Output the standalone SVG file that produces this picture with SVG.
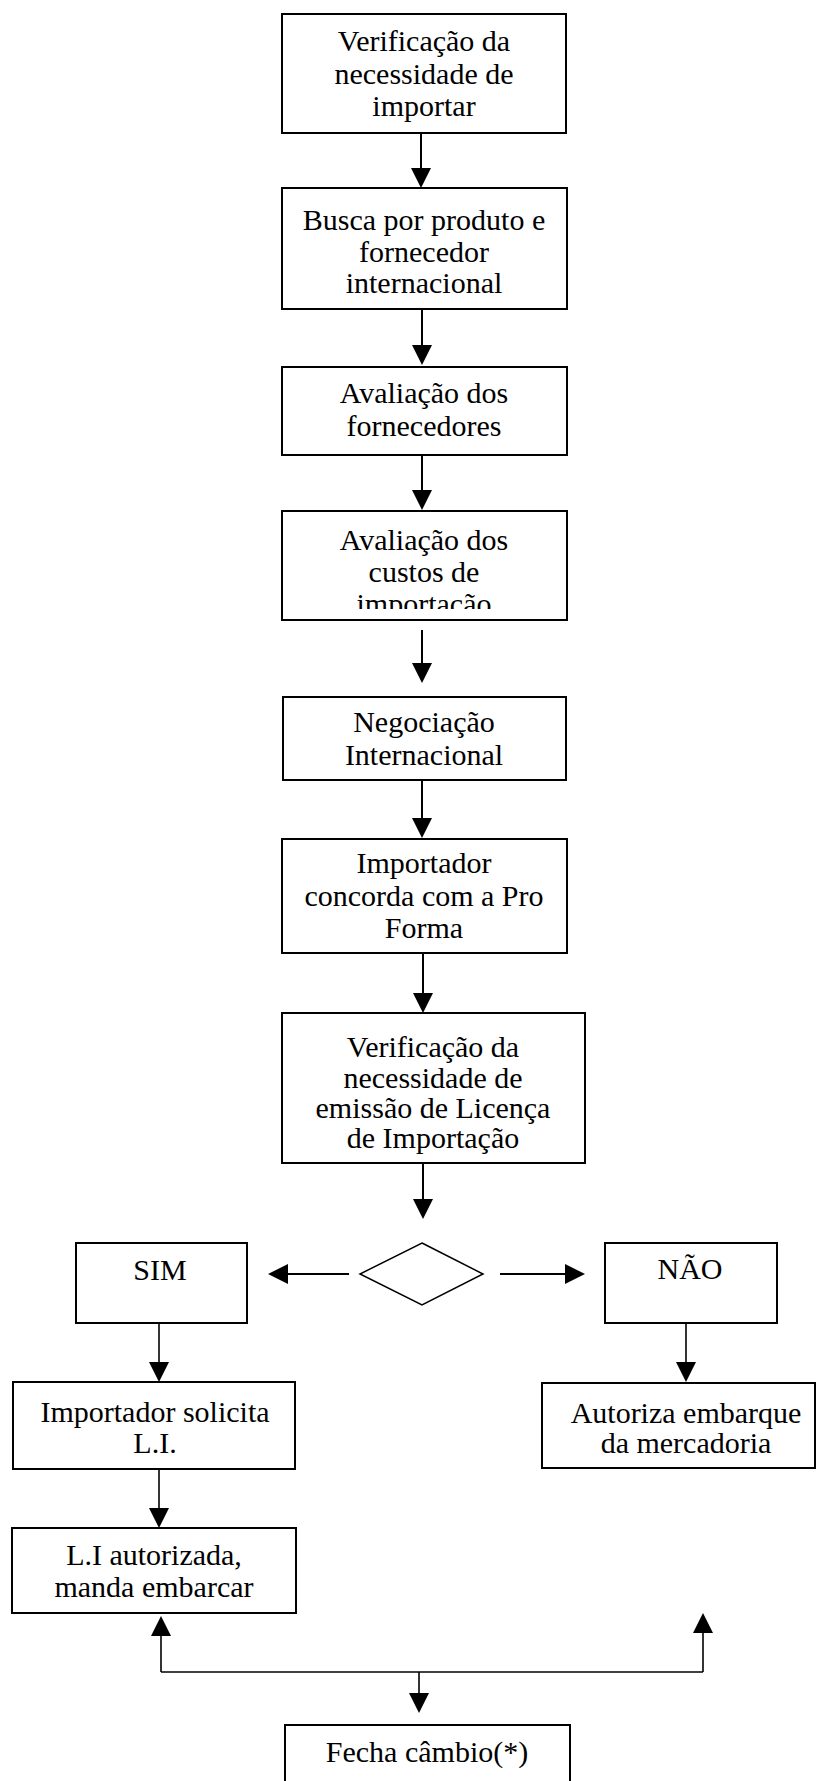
<svg xmlns="http://www.w3.org/2000/svg" width="817" height="1781" viewBox="0 0 817 1781">
<style>
.box{fill:#fff;stroke:#000;stroke-width:2}
.thin{fill:#fff;stroke:#000;stroke-width:1.5}
.t{font-family:"Liberation Serif","Times New Roman",serif;font-size:30px;fill:#000;text-anchor:middle}
.c{fill:none;stroke:#000;stroke-width:2}
.cl{fill:none;stroke:#000;stroke-width:1.6}
</style>
<defs>
<marker id="ah" viewBox="0 0 20 20" markerUnits="userSpaceOnUse" markerWidth="20" markerHeight="20" refX="0" refY="10" orient="auto">
<path d="M0,0 L20,10 L0,20 z" fill="#000"/>
</marker>
<clipPath id="clip4"><rect x="282" y="511" width="285" height="98"/></clipPath>
</defs>
<rect width="817" height="1781" fill="#fff"/>

<g id="n1"><rect class="box" x="282" y="14" width="284" height="119"/>
<text class="t" x="424" y="51">Verificação da</text>
<text class="t" x="424" y="84">necessidade de</text>
<text class="t" x="424" y="116">importar</text></g>

<g id="n2"><rect class="box" x="282" y="188" width="285" height="121"/>
<text class="t" x="424" y="230">Busca por produto e</text>
<text class="t" x="424" y="262">fornecedor</text>
<text class="t" x="424" y="293">internacional</text></g>

<g id="n3"><rect class="box" x="282" y="367" width="285" height="88"/>
<text class="t" x="424" y="403">Avaliação dos</text>
<text class="t" x="424" y="436">fornecedores</text></g>

<g id="n4"><rect class="box" x="282" y="511" width="285" height="109"/>
<g clip-path="url(#clip4)">
<text class="t" x="424" y="550">Avaliação dos</text>
<text class="t" x="424" y="582">custos de</text>
<text class="t" x="424" y="614">importação</text></g></g>

<g id="n5"><rect class="box" x="283" y="697" width="283" height="83"/>
<text class="t" x="424" y="732">Negociação</text>
<text class="t" x="424" y="765">Internacional</text></g>

<g id="n6"><rect class="box" x="282" y="839" width="285" height="114"/>
<text class="t" x="424" y="873">Importador</text>
<text class="t" x="424" y="906">concorda com a Pro</text>
<text class="t" x="424" y="938">Forma</text></g>

<g id="n7"><rect class="box" x="282" y="1013" width="303" height="150"/>
<text class="t" x="433" y="1057">Verificação da</text>
<text class="t" x="433" y="1088">necessidade de</text>
<text class="t" x="433" y="1118">emissão de Licença</text>
<text class="t" x="433" y="1148">de Importação</text></g>

<g id="decision"><path class="thin" d="M422,1243 L483,1274 L422,1305 L360,1274 Z"/></g>

<g id="sim"><rect class="box" x="76" y="1243" width="171" height="80"/>
<text class="t" x="160" y="1280">SIM</text></g>

<g id="nao"><rect class="box" x="605" y="1243" width="172" height="80"/>
<text class="t" x="690" y="1279">NÃO</text></g>

<g id="solicita"><rect class="box" x="13" y="1382" width="282" height="87"/>
<text class="t" x="155" y="1422">Importador solicita</text>
<text class="t" x="155" y="1453">L.I.</text></g>

<g id="autoriza"><rect class="box" x="542" y="1383" width="273" height="85"/>
<text class="t" x="686" y="1423">Autoriza embarque</text>
<text class="t" x="686" y="1453">da mercadoria</text></g>

<g id="li"><rect class="box" x="12" y="1528" width="284" height="85"/>
<text class="t" x="154" y="1565">L.I autorizada,</text>
<text class="t" x="154" y="1597">manda embarcar</text></g>

<g id="fecha"><rect class="box" x="285" y="1725" width="285" height="80"/>
<text class="t" x="427" y="1762">Fecha câmbio(*)</text></g>

<g id="connectors">
<path class="c" d="M421,133 V168" marker-end="url(#ah)"/>
<path class="c" d="M422,309 V345" marker-end="url(#ah)"/>
<path class="c" d="M422,455 V490" marker-end="url(#ah)"/>
<path class="c" d="M422,630 V663" marker-end="url(#ah)"/>
<path class="c" d="M422,780 V818" marker-end="url(#ah)"/>
<path class="c" d="M423,953 V993" marker-end="url(#ah)"/>
<path class="c" d="M423,1163 V1199" marker-end="url(#ah)"/>
<path class="c" d="M349,1274 H288" marker-end="url(#ah)"/>
<path class="c" d="M500,1274 H565" marker-end="url(#ah)"/>
<path class="cl" d="M159,1323 V1362" marker-end="url(#ah)"/>
<path class="cl" d="M686,1323 V1362" marker-end="url(#ah)"/>
<path class="cl" d="M159,1469 V1508" marker-end="url(#ah)"/>
<path class="cl" d="M161,1672 H703"/>
<path class="cl" d="M161,1672 V1636" marker-end="url(#ah)"/>
<path class="cl" d="M703,1672 V1633" marker-end="url(#ah)"/>
<path class="cl" d="M419,1672 V1693" marker-end="url(#ah)"/>
</g>
</svg>
